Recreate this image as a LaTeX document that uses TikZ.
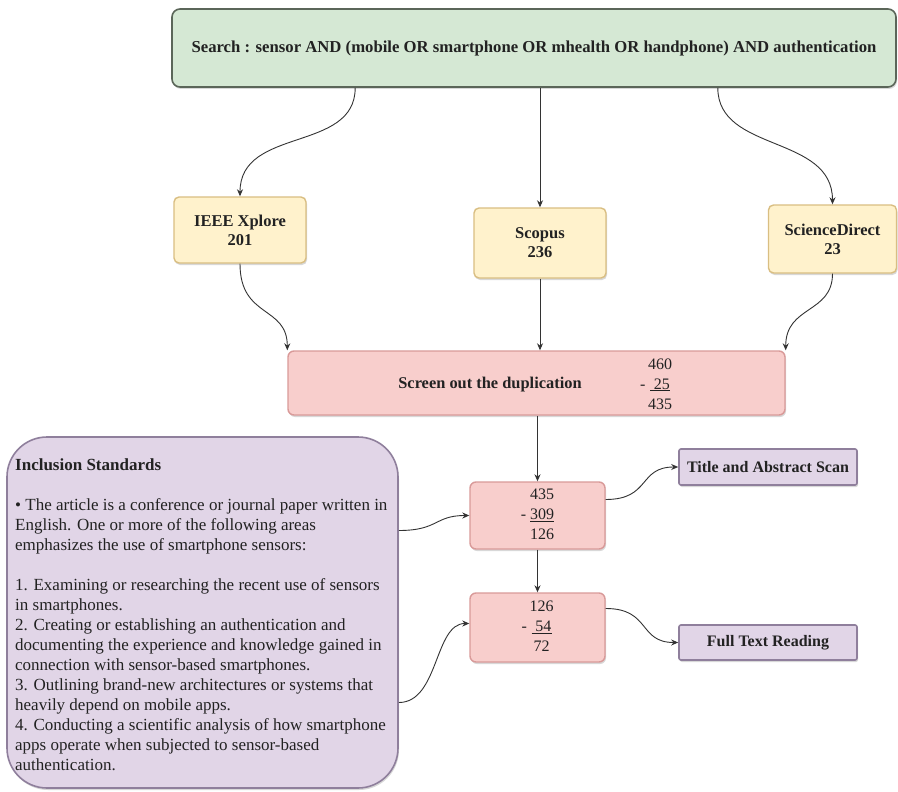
\documentclass[tikz,border=0pt]{standalone}
\usepackage{fontspec}
\setmainfont{Liberation Serif}
\usetikzlibrary{arrows.meta,shadows,calc}
\definecolor{linec}{HTML}{333333}
\definecolor{gfill}{HTML}{D5E8D4}
\definecolor{gborder}{HTML}{5B6659}
\definecolor{yfill}{HTML}{FFF2CC}
\definecolor{yborder}{HTML}{D9BE82}
\definecolor{pfill}{HTML}{F8CECC}
\definecolor{pborder}{HTML}{D99A99}
\definecolor{vfill}{HTML}{E1D5E7}
\definecolor{vborder}{HTML}{8F7F9C}
\definecolor{txt}{HTML}{222222}
\begin{document}
\begin{tikzpicture}[x=1pt,y=-1pt,
  arr/.style={draw=linec, line width=0.9pt, -{Stealth[length=7pt,width=6pt]}},
  shad/.style={drop shadow={opacity=0.3, shadow xshift=1pt, shadow yshift=-2pt}},
  greenbox/.style={draw=gborder, fill=gfill, line width=1.6pt, rounded corners=8pt, inner sep=0pt, shad},
  yellowbox/.style={draw=yborder, fill=yfill, line width=1.4pt, rounded corners=5pt, inner sep=0pt, align=center, shad,
    font=\bfseries\fontsize{16.5}{19}\selectfont},
  pinkbox/.style={draw=pborder, fill=pfill, line width=1.4pt, rounded corners=6pt, inner sep=0pt, shad},
  violetbox/.style={draw=vborder, fill=vfill, line width=1.6pt, rounded corners=2pt, inner sep=0pt, shad,
    font=\bfseries\fontsize{16}{18}\selectfont},
  inclbox/.style={draw=vborder, fill=vfill, line width=1.6pt, rounded corners=40pt, inner sep=0pt, shad},
  numtab/.style={font=\fontsize{16}{20}\selectfont, inner sep=0pt, text=txt}
]
\useasboundingbox (0,0) rectangle (898,792);
\fill[white] (0,0) rectangle (898,792);

\node[greenbox, minimum width=724pt, minimum height=78pt, text=txt] (search) at (534,48)
  {\bfseries\fontsize{16.7}{19}\selectfont Search : sensor AND (mobile OR smartphone OR mhealth OR handphone) AND authentication};

\node[yellowbox, minimum width=132pt, minimum height=66pt, text=txt] (ieee) at (240,230) {IEEE Xplore\\201};
\node[yellowbox, minimum width=132pt, minimum height=70pt, text=txt] (scopus) at (540,243) {Scopus\\236};
\node[yellowbox, minimum width=128pt, minimum height=68pt, text=txt] (sd) at (832.5,239) {ScienceDirect\\23};

\node[pinkbox, minimum width=497pt, minimum height=64pt] (screen) at (536.5,383) {};
\node[font=\bfseries\fontsize{16.4}{19}\selectfont, text=txt, inner sep=0pt] (screentxt) at (490,385) {Screen out the duplication};
\node[numtab] (screennum) at (656,385)
  {\begin{tabular}{@{}r@{\,}c@{}} & 460\\ - & \underline{\ 25}\\ & 435\end{tabular}};

\node[pinkbox, minimum width=135pt, minimum height=67pt, numtab] (box1) at (537.5,515.5)
  {\begin{tabular}{@{}r@{\ }c@{}} & 435\\ - & \underline{309}\\ & 126\end{tabular}};
\node[pinkbox, minimum width=135pt, minimum height=69pt, numtab] (box2) at (537.5,627.5)
  {\begin{tabular}{@{}r@{\,}c@{}} & 126\\ - & \underline{\ 54}\\ & 72\end{tabular}};

\node[violetbox, minimum width=178pt, minimum height=36pt, text=txt] (title) at (768,467) {Title and Abstract Scan};
\node[violetbox, minimum width=178pt, minimum height=35pt, text=txt] (fulltext) at (768,642.5) {Full Text Reading};

\node[inclbox, minimum width=391pt, minimum height=351pt] (incl) at (202.5,612.5) {};
\node[anchor=north west, align=left, inner sep=0pt, text=txt, font=\fontsize{17}{20}\selectfont] (incltext) at (15,458)
 {\textbf{Inclusion Standards}\\[20pt]
 • The article is a conference or journal paper written in\\
 English. One or more of the following areas\\
 emphasizes the use of smartphone sensors:\\[20pt]
 1. Examining or researching the recent use of sensors\\
 in smartphones.\\
 2. Creating or establishing an authentication and\\
 documenting the experience and knowledge gained in\\
 connection with sensor-based smartphones.\\
 3. Outlining brand-new architectures or systems that\\
 heavily depend on mobile apps.\\
 4. Conducting a scientific analysis of how smartphone\\
 apps operate when subjected to sensor-based\\
 authentication.};

\draw[arr] ([xshift=184pt]search.south west) .. controls +(0,65) and +(0,-70) .. (ieee.north);
\draw[arr] (scopus.north |- search.south) -- (scopus.north);
\draw[arr] ([xshift=-179pt]search.south east) .. controls +(0,65) and +(0,-70) .. (sd.north);

\draw[arr] (ieee.south) .. controls +(0,55) and +(0,-45) .. (screen.north west);
\draw[arr] (scopus.south) -- (scopus.south |- screen.north);
\draw[arr] (sd.south) .. controls +(0,40) and +(0,-45) .. (screen.north east);

\draw[arr] (box1.north |- screen.south) -- (box1.north);
\draw[arr] (box1.south) -- (box2.north);
\draw[arr] ([yshift=16pt]box1.east) .. controls +(45,0) and +(-40,0) .. (title.west);
\draw[arr] ([yshift=19pt]box2.east) .. controls +(45,0) and +(-40,0) .. (fulltext.west);
\draw[arr] ([yshift=82pt]incl.east) .. controls +(40,0) and +(-35,0) .. (box1.west);
\draw[arr] ([yshift=-90pt]incl.east) .. controls +(40,0) and +(-35,0) .. ([yshift=4pt]box2.west);
\end{tikzpicture}
\end{document}
